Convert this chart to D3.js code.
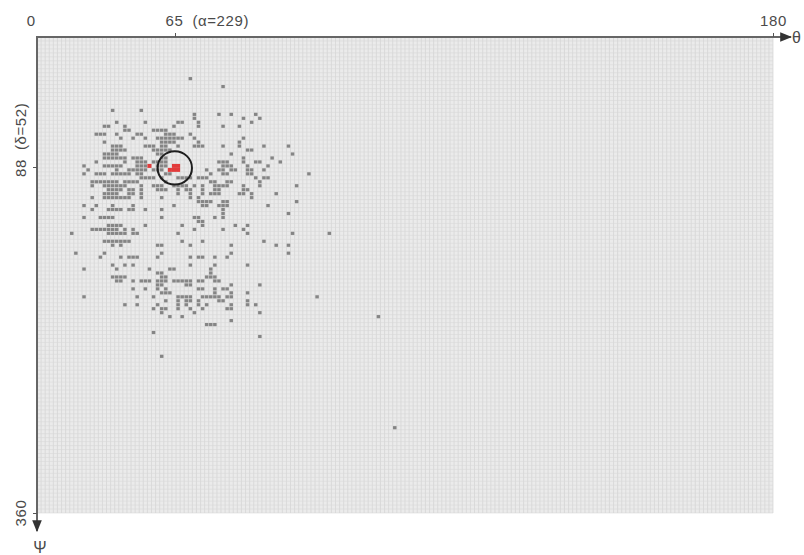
<!DOCTYPE html>
<html>
<head>
<meta charset="utf-8">
<script src="https://cdn.jsdelivr.net/npm/d3@7"></script>
<style>
  body { margin: 0; background: #fff; }
  svg text { font-family: "Liberation Sans", Arial, sans-serif; fill: #4a4a4a; }
</style>
</head>
<body>
<div id="svg"></div>
<script>
// grid size in cells
var nCols = 180, nRows = 120;

// axis ticks (labels are not linear in cell index)
var xTicks = [0, 65, 180];
var xTickLabels = ['0', '65', '180'];
var yTicks = [88, 360];
var yTickLabels = ['88', '360'];
var xNotes = {65: '(\u03b1=229)'};
var yNotes = {88: '(\u03b4=52)'};

// grey cells: [row, [columns]]
var greyRows = [
  [10, [37]], [12, [45]], [18, [18, 25]],
  [19, [38, 44, 47, 53]], [20, [38, 50, 54]],
  [21, [19, 26, 34, 35, 39, 52]],
  [22, [16, 17, 21, 33, 39, 45, 49]],
  [23, [21, 22, 28, 29, 30, 31]],
  [24, [14, 15, 16, 19, 24, 25, 31, 32, 33, 37]],
  [25, [20, 23, 26, 29, 30, 31, 32, 33, 34, 35, 38, 50]],
  [26, [16, 30, 31, 32, 33, 39, 49]],
  [27, [18, 19, 20, 26, 27, 28, 30, 31, 34, 38, 39, 40, 45, 49, 55, 61]],
  [28, [18, 19, 20, 21, 28, 29, 30, 31, 32, 51, 52]],
  [29, [16, 17, 18, 19, 29, 30, 47, 62]],
  [30, [16, 17, 18, 19, 20, 21, 23, 24, 25, 30, 31, 50, 57]],
  [31, [14, 21, 24, 25, 26, 28, 29, 30, 31, 44, 45, 46, 50, 53, 54, 59]],
  [32, [11, 16, 17, 18, 19, 20, 24, 25, 26, 29, 30, 31, 45, 46, 47, 51, 56]],
  [33, [12, 19, 22, 23, 24, 25, 26, 28, 29, 30, 41, 44, 45, 47, 48, 51, 52, 55]],
  [34, [11, 14, 15, 16, 18, 19, 20, 21, 22, 24, 25, 31, 32, 42, 45, 46, 51, 52, 66]],
  [35, [25, 26, 27, 28, 30, 34, 35, 36, 37, 39, 40, 41, 53, 55, 56]],
  [36, [13, 14, 15, 16, 17, 18, 19, 21, 22, 23, 24, 31, 42, 43, 46, 47, 54]],
  [37, [13, 16, 17, 18, 19, 20, 21, 25, 28, 29, 30, 33, 34, 35, 36, 38, 40, 43, 44, 45, 46, 50, 54, 63]],
  [38, [17, 18, 19, 20, 22, 23, 25, 29, 30, 31, 34, 36, 37, 40, 43, 44, 50, 51]],
  [39, [16, 17, 18, 19, 22, 23, 25, 34, 37, 40, 42, 43, 44, 49, 50, 52, 58]],
  [40, [13, 16, 17, 18, 19, 20, 21, 22, 25, 30, 37, 39, 52]],
  [41, [39, 40, 41, 42, 45, 46, 63]],
  [42, [11, 14, 18, 23, 33, 40, 41, 44, 45, 46, 56]],
  [43, [13, 17, 18, 19, 20, 22, 23, 26, 30, 45]],
  [44, [45, 61]],
  [45, [11, 15, 16, 17, 18, 30, 38, 39, 43, 45]],
  [46, [39, 40]],
  [47, [17, 18, 19, 20, 26, 35, 40, 48, 51]],
  [48, [13, 14, 15, 16, 17, 18, 19, 21, 23, 38, 45, 50]],
  [49, [8, 17, 18, 19, 20, 21, 23, 24, 34, 51, 62, 71]],
  [51, [16, 17, 18, 19, 20, 21, 22, 35, 40, 55]],
  [52, [18, 20, 29, 30, 37, 47, 58, 61]],
  [54, [9, 16, 30, 47, 61]],
  [55, [15, 20, 22, 23, 24, 29, 37, 39, 40, 43, 46]],
  [57, [18, 21, 23, 37, 43, 51]],
  [58, [11, 19, 27, 32, 33, 42]],
  [59, [29, 30, 42]],
  [60, [18, 19, 20, 21, 30, 31, 41, 42, 43]],
  [61, [19, 20, 23, 25, 26, 27, 29, 30, 31, 33, 34, 35, 36, 37, 39, 40, 43, 44]],
  [62, [29, 30, 36, 37, 47, 54]],
  [63, [23, 26, 29, 31, 39, 40, 43, 45, 46]],
  [64, [30, 31, 32, 43, 47, 51]],
  [65, [11, 24, 28, 34, 35, 36, 37, 40, 41, 42, 43, 44, 46, 47, 68]],
  [66, [31, 34, 36, 37, 39, 44, 45, 51]],
  [67, [21, 24, 29, 34, 36, 39, 41, 47, 51, 53]],
  [68, [28, 30, 31, 34, 37, 40, 46, 47]],
  [69, [30, 38, 54]], [70, [32, 35, 83]], [71, [47]],
  [72, [41, 42, 43]], [74, [28]], [75, [54]], [80, [30]], [98, [87]]
];

// red cells: [col, row]
var redCells = [[33, 32], [34, 32], [33, 33], [34, 33], [32, 33], [27, 32]];

// circled cell: [col, row, radius in cols]
var ring = [33.7, 33, 4.2];

var svg = d3.select('#svg')
          .append('svg')
          .attr('width', 804)
          .attr('height', 555);

var x = d3.scaleLinear().domain([0, nCols]).range([37, 773]);
var y = d3.scaleLinear().domain([0, nRows]).range([37, 513]);
var xa = d3.scaleLinear().domain([0, 65, 180]).range([37, 175, 773]);
var ya = d3.scaleLinear().domain([0, 88, 360]).range([37, 167, 513]);

var cw = x(1) - x(0), ch = y(1) - y(0);

var defs = svg.append('defs');
defs.append('filter').attr('id', 'soft')
    .append('feGaussianBlur').attr('stdDeviation', 0.45);

// background grid
svg.append('rect')
    .attr('x', x(0)).attr('y', y(0))
    .attr('width', x(nCols) - x(0))
    .attr('height', y(nRows) - y(0))
    .style('fill', '#ebebeb');

svg.append('g').selectAll('line')
    .data(d3.range(nCols + 1))
    .enter().append('line')
    .attr('x1', function(d){ return x(d); })
    .attr('x2', function(d){ return x(d); })
    .attr('y1', y(0)).attr('y2', y(nRows))
    .style('stroke', '#d3d3d3')
    .style('stroke-width', 0.7);

svg.append('g').selectAll('line')
    .data(d3.range(nRows + 1))
    .enter().append('line')
    .attr('y1', function(d){ return y(d); })
    .attr('y2', function(d){ return y(d); })
    .attr('x1', x(0)).attr('x2', x(nCols))
    .style('stroke', '#d9d9d9')
    .style('stroke-width', 0.6);

// grey cells
var greyCells = [];
greyRows.forEach(function(r){
  r[1].forEach(function(c){ greyCells.push([c, r[0]]); });
});

svg.append('g').attr('filter', 'url(#soft)').selectAll('rect')
    .data(greyCells)
    .enter().append('rect')
    .attr('x', function(d){ return x(d[0]) + 0.3; })
    .attr('y', function(d){ return y(d[1]) + 0.4; })
    .attr('width', cw - 0.6)
    .attr('height', ch - 0.8)
    .style('fill', '#858585');

svg.append('g').attr('filter', 'url(#soft)').selectAll('rect')
    .data(redCells)
    .enter().append('rect')
    .attr('x', function(d){ return x(d[0]); })
    .attr('y', function(d){ return y(d[1]); })
    .attr('width', cw)
    .attr('height', ch)
    .style('fill', '#e23a3a');

svg.append('ellipse')
    .attr('cx', x(ring[0]))
    .attr('cy', y(ring[1]))
    .attr('rx', x(ring[2]) - x(0))
    .attr('ry', x(ring[2]) - x(0) - 0.5)
    .style('fill', 'none')
    .style('stroke', '#1e1e1e')
    .style('stroke-width', 2);

// axes
defs.append('marker')
    .attr('id', 'arr')
    .attr('viewBox', '0 0 10 10')
    .attr('refX', 9).attr('refY', 5)
    .attr('markerWidth', 6).attr('markerHeight', 6)
    .attr('orient', 'auto')
    .append('path')
    .attr('d', 'M0,1L10,5L0,9Z')
    .style('fill', '#333');

svg.append('line')
    .attr('x1', x(0) - 1).attr('x2', 791)
    .attr('y1', y(0)).attr('y2', y(0))
    .style('stroke', '#666').style('stroke-width', 2)
    .attr('marker-end', 'url(#arr)');

svg.append('line')
    .attr('x1', x(0)).attr('x2', x(0))
    .attr('y1', y(0) - 1).attr('y2', 531)
    .style('stroke', '#666').style('stroke-width', 2)
    .attr('marker-end', 'url(#arr)');

// x ticks
var xg = svg.append('g').attr('transform', 'translate(0,' + y(0) + ')')
    .call(d3.axisTop(xa).tickValues(xTicks.slice(1)).tickSize(4).tickSizeOuter(0)
      .tickFormat(function(d){ return xTickLabels[xTicks.indexOf(d)]; }));
xg.select('.domain').remove();
xg.selectAll('.tick line').style('stroke', '#555');
xg.selectAll('.tick text')
    .attr('y', -11)
    .attr('dy', null)
    .style('font-size', '15px')
    .style('letter-spacing', '0.6px')
    .style('fill', '#4a4a4a')
    .each(function(d){
      if (xNotes[d]) {
        d3.select(this).append('tspan').attr('dx', 9).text(xNotes[d]);
        d3.select(this).attr('text-anchor', 'start').attr('x', -10);
      }
    });

svg.append('text')
    .attr('x', xa(0) - 6).attr('y', 26)
    .attr('text-anchor', 'middle')
    .style('font-size', '15px')
    .text(xTickLabels[0]);

svg.append('text')
    .attr('x', 792).attr('y', 43)
    .style('font-size', '16px')
    .text('\u03b8');

// y ticks
var yg = svg.append('g').attr('transform', 'translate(' + x(0) + ',0)')
    .call(d3.axisLeft(ya).tickValues(yTicks).tickSize(4).tickSizeOuter(0)
      .tickFormat(function(d){ return ''; }));
yg.select('.domain').remove();
yg.selectAll('.tick line').style('stroke', '#555');

yTicks.forEach(function(t, i){
  var tx = svg.append('text')
      .attr('transform', 'translate(26,' + ya(t) + ') rotate(-90)')
      .attr('text-anchor', yNotes[t] ? 'start' : 'middle')
      .attr('x', yNotes[t] ? -10 : 0)
      .style('font-size', '15px')
      .style('letter-spacing', '0.6px')
      .text(yTickLabels[i]);
  if (yNotes[t]) tx.append('tspan').attr('dx', 9).text(yNotes[t]);
});

svg.append('text')
    .attr('x', 40).attr('y', 553)
    .attr('text-anchor', 'middle')
    .style('font-size', '16px')
    .text('\u03a8');
</script>
</body>
</html>
